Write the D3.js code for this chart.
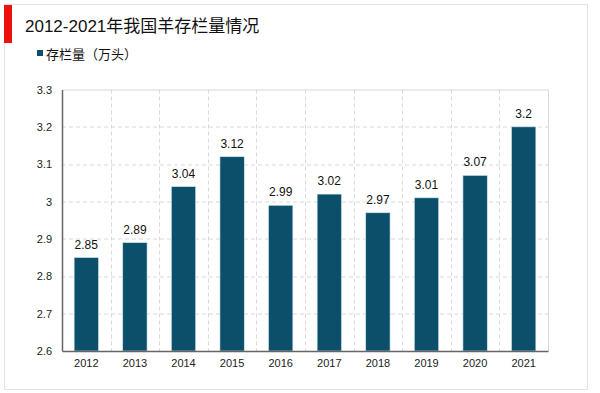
<!DOCTYPE html>
<html lang="zh">
<head>
<meta charset="UTF-8">
<title>2012-2021年我国羊存栏量情况</title>
<script src="https://d3js.org/d3.v7.min.js"></script>
<style>
    body { margin: 0; background: #fff; font-family: "Liberation Sans", Arial, "Noto Sans CJK SC", sans-serif; }
</style>
</head>
<body>
<div id="chart"></div>
<script>
    // data
    const years = ["2012", "2013", "2014", "2015", "2016", "2017", "2018", "2019", "2020", "2021"];
    const stock = [2.85, 2.89, 3.04, 3.12, 2.99, 3.02, 2.97, 3.01, 3.07, 3.2];
    const yTicks = [2.6, 2.7, 2.8, 2.9, 3, 3.1, 3.2, 3.3];

    const W = 600, H = 393;
    const margin = { top: 89.5, right: 52, bottom: 42, left: 62 };
    const width = W - margin.left - margin.right,
          height = H - margin.top - margin.bottom;

    const svg = d3.select("#chart").append("svg")
        .attr("width", W).attr("height", H);

    // outer frame
    svg.append("rect")
        .attr("x", 4.5).attr("y", 4.5).attr("width", 583).attr("height", 385)
        .attr("fill", "none").attr("stroke", "#e3e3e3");

    // title bar
    svg.append("rect").attr("x", 4).attr("y", 5).attr("width", 8).attr("height", 38).attr("fill", "#ee1111");
    svg.append("text")
        .attr("x", 25).attr("y", 32)
        .attr("font-size", 17).attr("fill", "#111")
        .text("2012-2021年我国羊存栏量情况");

    // legend
    svg.append("rect").attr("x", 37).attr("y", 50).attr("width", 6).attr("height", 6).attr("fill", "#0b4f6a");
    svg.append("text")
        .attr("x", 46).attr("y", 59)
        .attr("font-size", 13).attr("fill", "#111")
        .text("存栏量（万头）");

    const g = svg.append("g").attr("transform", `translate(${margin.left},${margin.top})`);

    const x = d3.scaleBand().domain(years).range([0, width]).paddingInner(0.5).paddingOuter(0.25);
    const y = d3.scaleLinear().domain([2.6, 3.3]).range([height, 0]);

    // grid
    g.selectAll(".hgrid").data(yTicks.slice(1)).join("line")
        .attr("x1", 0).attr("x2", width)
        .attr("y1", d => Math.round(y(d)) + 0.5).attr("y2", d => Math.round(y(d)) + 0.5)
        .attr("stroke", "#d9d9d9")
        .attr("stroke-dasharray", d => d === 3.3 ? null : "4,3");

    g.selectAll(".vgrid").data(d3.range(1, years.length + 1)).join("line")
        .attr("x1", i => Math.round(i * width / years.length) + 0.5)
        .attr("x2", i => Math.round(i * width / years.length) + 0.5)
        .attr("y1", 0).attr("y2", height)
        .attr("stroke", "#d9d9d9")
        .attr("stroke-dasharray", i => i === years.length ? null : "4,3");

    // bars
    g.selectAll(".bar").data(stock).join("rect")
        .attr("x", (d, i) => x(years[i]))
        .attr("y", d => y(d))
        .attr("width", x.bandwidth())
        .attr("height", d => height - y(d))
        .attr("fill", "#0b4f6a")
        .attr("stroke", "#cfe3ea").attr("stroke-width", 0.6);

    // value labels
    g.selectAll(".lbl").data(stock).join("text")
        .attr("x", (d, i) => x(years[i]) + x.bandwidth() / 2)
        .attr("y", d => y(d) - 9)
        .attr("text-anchor", "middle")
        .attr("font-size", 12).attr("fill", "#111")
        .text(d => d);

    // axes
    const yAxis = g.append("g")
        .call(d3.axisLeft(y).tickValues(yTicks).tickFormat(d => d).tickSize(0).tickPadding(10));
    yAxis.select(".domain").attr("stroke", "#666").attr("stroke-width", 1.5);
    yAxis.selectAll("text").attr("font-size", 11).attr("fill", "#222")
        .attr("font-family", "Liberation Sans, Arial, sans-serif");

    const xAxis = g.append("g").attr("transform", `translate(0,${height})`)
        .call(d3.axisBottom(x).tickSize(0).tickPadding(8));
    xAxis.select(".domain").attr("stroke", "#666").attr("stroke-width", 1.5);
    xAxis.selectAll("text").attr("font-size", 11).attr("fill", "#222")
        .attr("font-family", "Liberation Sans, Arial, sans-serif");
</script>
</body>
</html>
